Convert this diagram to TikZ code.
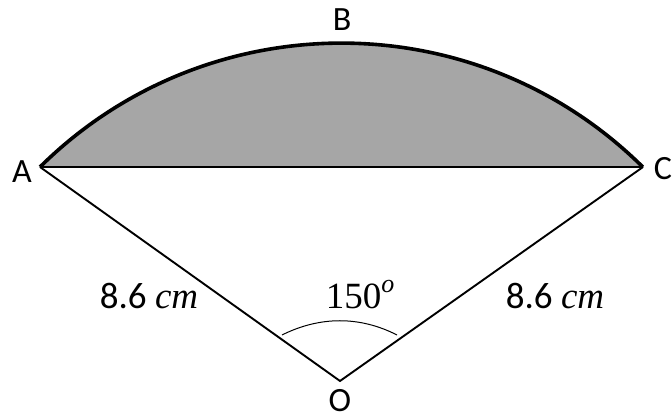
\documentclass[tikz,border=0pt]{standalone}
\usepackage{fontspec}
\setmainfont{Carlito}
\newfontfamily\mathlike{Liberation Serif}
\begin{document}
\begin{tikzpicture}[x=1pt,y=1pt,
  lbl/.style={font=\fontsize{34}{38}\selectfont, inner sep=0pt},
  mlbl/.style={font=\fontsize{37}{40}\selectfont, inner sep=0pt}]
\useasboundingbox (0,0) rectangle (672,420);
\coordinate (A) at (40,253);
\coordinate (C) at (643,253);
\coordinate (O) at (340,39);
\coordinate (P) at (282,85);
\coordinate (Q) at (397,85);
% segment
\fill[fill={rgb,255:red,166;green,166;blue,166}] (A) arc[start angle=134.7,end angle=45.3,radius=428.5] -- cycle;
\draw[line width=3.6pt] (A) arc[start angle=134.7,end angle=45.3,radius=428.5];
\draw[line width=1.6pt] (A) -- (C);
\draw[line width=1.9pt, line join=miter] (A) -- (O) -- (C);
\draw[line width=1pt] (P) .. controls (320,104) and (360,104) .. (Q);
% labels
\node[lbl] (lA) at (22,248) {A};
\node[lbl] (lC) at (663,251) {C};
\node[lbl] (lB) at (342,400) {B};
\node[lbl, anchor=base] (lO) at (340,8) {O};
\node[mlbl, anchor=base] (l1) at (149,111) {8.6 {\mathlike\itshape cm}};
\node[mlbl, anchor=base] (l2) at (555,111) {8.6 {\mathlike\itshape cm}};
\node[mlbl, anchor=base] (l3) at (360,111) {{\mathlike 150}\raisebox{0.45em}{\mathlike\itshape\fontsize{26}{28}\selectfont o}};
\end{tikzpicture}
\end{document}
